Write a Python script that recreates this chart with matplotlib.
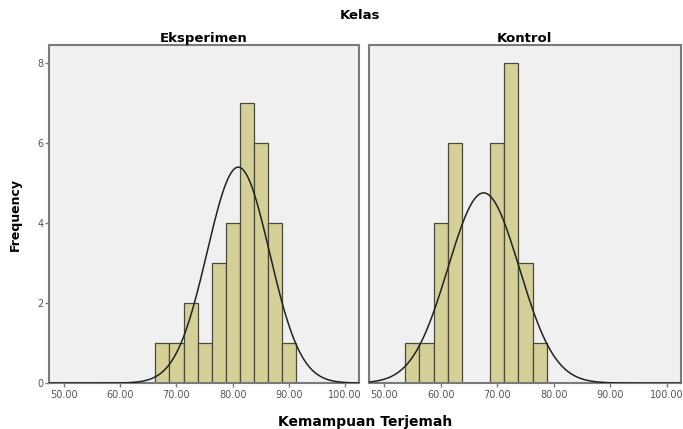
import numpy as np
import matplotlib.pyplot as plt

# histogram bins (width 2.5) and counts
bin_edges = [53.75, 56.25, 58.75, 61.25, 63.75, 66.25, 68.75, 71.25,
             73.75, 76.25, 78.75, 81.25, 83.75, 86.25, 88.75, 91.25]
counts_eksperimen = [0, 0, 0, 0, 0, 1, 1, 2, 1, 3, 4, 7, 6, 4, 1]
counts_kontrol = [1, 1, 4, 6, 0, 0, 6, 8, 3, 1, 0, 0, 0, 0, 0]

# normal curve parameters (mean, std)
normal_eksperimen = (81.0, 5.55)
normal_kontrol = (67.6, 6.3)
n_total = 30

groups = ['Eksperimen', 'Kontrol']
x_ticks = [50, 60, 70, 80, 90, 100]
y_ticks = [0, 2, 4, 6, 8]

plt.rcParams['font.family'] = ['DejaVu Sans']

fig = plt.figure(figsize=(6.83, 4.29), dpi=100)
ax1 = fig.add_axes([0.0717, 0.107, 0.454, 0.788])
ax2 = fig.add_axes([0.540, 0.107, 0.457, 0.788])

edges = np.array(bin_edges)
widths = np.diff(edges)
xs = np.linspace(44, 106, 400)

for ax, name, counts, (mu, sd) in zip(
        [ax1, ax2], groups, [counts_eksperimen, counts_kontrol],
        [normal_eksperimen, normal_kontrol]):
    ax.set_facecolor('#f0f0f0')
    ax.bar(edges[:-1], counts, width=widths, align='edge',
           color='#d4d098', edgecolor='#4a4a3a', linewidth=0.9, zorder=2)
    bw = widths[0]
    ys = n_total * bw / (sd * np.sqrt(2 * np.pi)) * np.exp(-0.5 * ((xs - mu) / sd) ** 2)
    ax.plot(xs, ys, color='#222222', linewidth=1.1, zorder=3)
    ax.set_xlim(47.3, 102.5)
    ax.set_ylim(0, 8.44)
    ax.set_xticks(x_ticks)
    ax.set_xticklabels(['%.2f' % v for v in x_ticks])
    ax.set_title(name, fontsize=9.5, fontweight='bold', pad=2)
    for s in ax.spines.values():
        s.set_color('#7a7a7a')
        s.set_linewidth(1.5)
    ax.tick_params(axis='x', colors='#7a7a7a', labelcolor='#555555',
                   labelsize=7, length=3, width=1, pad=2)

ax1.set_yticks(y_ticks)
ax1.tick_params(axis='y', colors='#7a7a7a', labelcolor='#555555',
                labelsize=7, length=3, width=1, pad=1)
ax2.set_yticks([])

fig.text(0.527, 0.965, 'Kelas', ha='center', va='center',
         fontsize=9.5, fontweight='bold')
fig.text(0.534, 0.016, 'Kemampuan Terjemah', ha='center', va='center',
         fontsize=10, fontweight='bold')
fig.text(0.022, 0.50, 'Frequency', ha='center', va='center',
         rotation=90, fontsize=9, fontweight='bold')

fig.savefig('out.png', dpi=100)
